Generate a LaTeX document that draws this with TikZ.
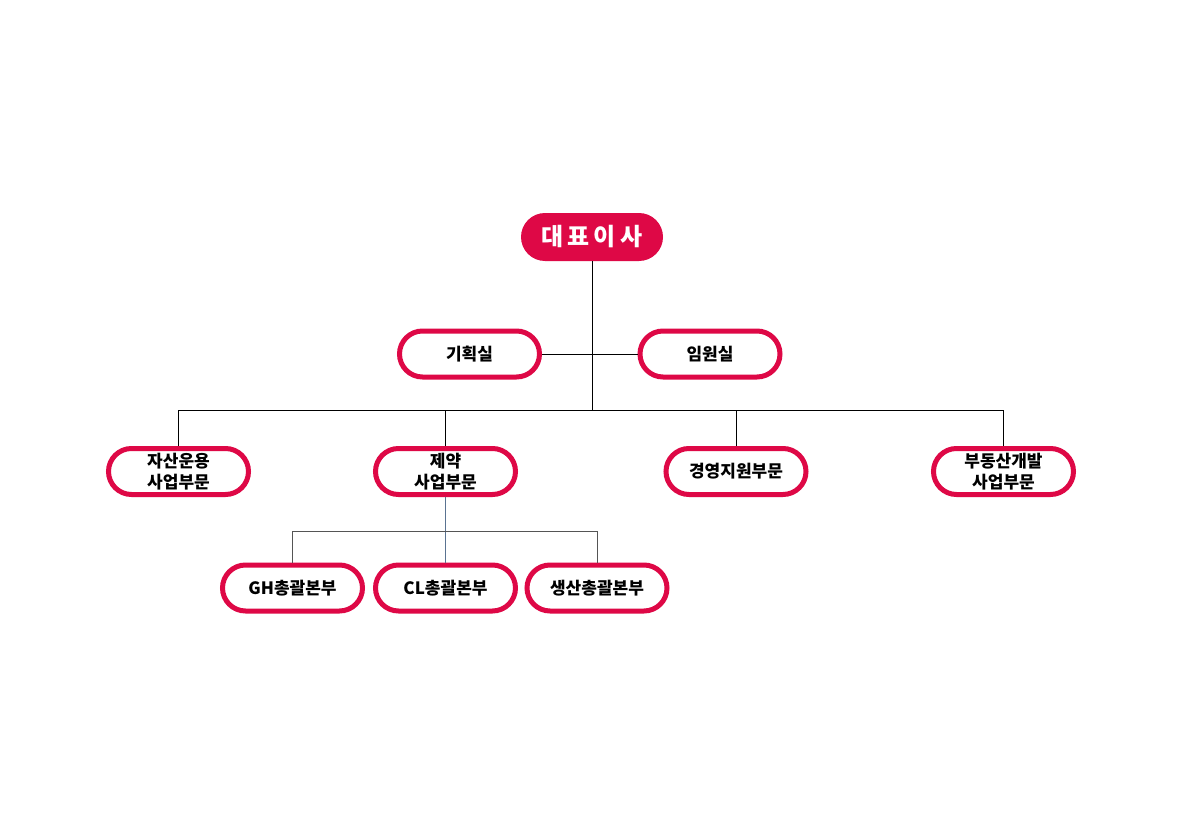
\documentclass[tikz,border=0pt]{standalone}
\usepackage{fontspec}
\setmainfont{Noto Sans CJK KR}
\definecolor{crim}{RGB}{222,8,70}
\definecolor{lnblue}{RGB}{90,115,145}
\definecolor{lngray}{RGB}{85,85,85}
\tikzset{
  unit/.style={draw=crim, line width=5pt, fill=white, rounded corners=23pt,
    minimum width=140pt, minimum height=46pt, inner sep=0pt, align=center,
    font=\fontsize{17pt}{21pt}\selectfont\bfseries, text=black},
  ceostyle/.style={fill=crim, draw=none, rounded corners=24pt,
    minimum width=142pt, minimum height=48pt, inner sep=0pt,
    font=\fontsize{24pt}{28pt}\selectfont\bfseries, text=white},
  conn/.style={draw=black, line width=1pt},
}
\begin{document}
\begin{tikzpicture}[x=1pt,y=-1pt]
\useasboundingbox[fill=white] (0,0) rectangle (1184,840);
\coordinate (b1) at (592,410);
\coordinate (b2) at (445.5,531);
\node[ceostyle] (ceo) at (592,237) {대\,표\,이\,사};
\node[unit] (plan) at (469.5,354) {기획실};
\node[unit] (exec) at (710,354) {임원실};
\node[unit] (asset) at (178.5,471.5) {자산운용\\사업부문};
\node[unit] (pharma) at (445.5,471.5) {제약\\사업부문};
\node[unit] (mgmt) at (736,471.5) {경영지원부문};
\node[unit] (real) at (1003.5,471.5) {부동산개발\\사업부문};
\node[unit] (gh) at (292.5,588) {GH총괄본부};
\node[unit] (cl) at (445.5,588) {CL총괄본부};
\node[unit] (prod) at (597,588) {생산총괄본부};
% connectors
\draw[conn] (ceo.south) -- (b1);
\draw[conn] (plan.east) -- (exec.west);
\draw[conn] (asset.north) |- (b1);
\draw[conn] (b1) -| (real.north);
\draw[conn] (pharma.north) -- (pharma.north |- b1);
\draw[conn] (mgmt.north) -- (mgmt.north |- b1);
\draw[draw=lnblue, line width=1pt] (pharma.south) -- (cl.north);
\draw[draw=lngray, line width=1pt] (gh.north) |- (b2);
\draw[draw=lngray, line width=1pt] (b2) -| (prod.north);
\end{tikzpicture}
\end{document}
